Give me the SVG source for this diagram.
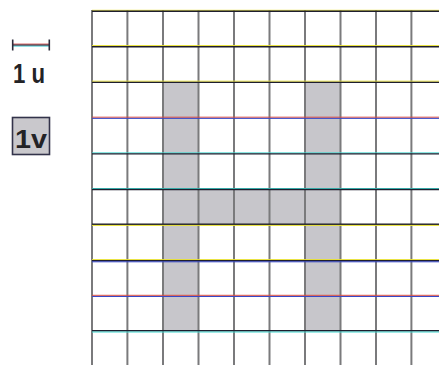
<svg xmlns="http://www.w3.org/2000/svg" width="439" height="365" viewBox="0 0 439 365">
<style>
.v{stroke:#7a7a7c;stroke-width:2}
.h{stroke:#1e1e2e;stroke-width:1.4}
.cell{fill:#c7c6cb}
.lbl{font-family:"Liberation Sans",Arial,sans-serif;font-weight:bold;fill:#232326}
.fy{stroke:#e8e030;stroke-width:1}
.fr{stroke:#d84a40;stroke-width:1}
.fb{stroke:#3848c8;stroke-width:1}
.fc{stroke:#40d8d0;stroke-width:1}
</style>
<rect width="439" height="365" fill="#ffffff"/>
<g id="cells">
<rect class="cell" x="163" y="82.1" width="35.5" height="248.9"/>
<rect class="cell" x="305" y="82.1" width="35.5" height="248.9"/>
<rect class="cell" x="198.5" y="188.75" width="106.5" height="35.55"/>
</g>
<g id="grid-vertical">
<line class="v" x1="92" y1="10" x2="92" y2="365"/>
<line class="v" x1="127.4" y1="10" x2="127.4" y2="365"/>
<line class="v" x1="163" y1="10" x2="163" y2="365"/>
<line class="v" x1="198.5" y1="10" x2="198.5" y2="365"/>
<line class="v" x1="234" y1="10" x2="234" y2="365"/>
<line class="v" x1="269.5" y1="10" x2="269.5" y2="365"/>
<line class="v" x1="305" y1="10" x2="305" y2="365"/>
<line class="v" x1="340.5" y1="10" x2="340.5" y2="365"/>
<line class="v" x1="376" y1="10" x2="376" y2="365"/>
<line class="v" x1="411.4" y1="10" x2="411.4" y2="365"/>
</g>
<g id="grid-horizontal">
<line class="fy" x1="92" y1="10.3" x2="439" y2="10.3"/>
<line class="h" x1="92" y1="11.3" x2="439" y2="11.3"/>
<line class="fy" x1="92" y1="45.6" x2="439" y2="45.6"/>
<line class="h" x1="92" y1="46.8" x2="439" y2="46.8"/>
<line class="fy" x1="92" y1="81.2" x2="439" y2="81.2"/>
<line class="h" x1="92" y1="82.4" x2="439" y2="82.4"/>
<line class="fr" x1="92" y1="117.2" x2="439" y2="117.2"/>
<line class="fb" x1="92" y1="118.4" x2="439" y2="118.4"/>
<line class="fc" x1="92" y1="152.9" x2="439" y2="152.9"/>
<line class="h" x1="92" y1="153.9" x2="439" y2="153.9"/>
<line class="fc" x1="92" y1="188.5" x2="439" y2="188.5"/>
<line class="h" x1="92" y1="189.5" x2="439" y2="189.5"/>
<line class="h" x1="92" y1="224.2" x2="439" y2="224.2"/>
<line class="fy" x1="92" y1="225.4" x2="439" y2="225.4"/>
<line class="fy" x1="92" y1="259.6" x2="439" y2="259.6"/>
<line class="h" x1="92" y1="260.7" x2="439" y2="260.7"/>
<line class="fb" x1="92" y1="261.8" x2="439" y2="261.8"/>
<line class="fr" x1="92" y1="295.3" x2="439" y2="295.3"/>
<line class="fb" x1="92" y1="296.5" x2="439" y2="296.5"/>
<line class="h" x1="92" y1="330.8" x2="439" y2="330.8"/>
<line class="fc" x1="92" y1="332" x2="439" y2="332"/>
</g>
<g id="scale-u">
<line x1="12.7" y1="45" x2="49.3" y2="45" stroke="#2a2a3a" stroke-width="1.6"/>
<line x1="12.7" y1="46.2" x2="49.3" y2="46.2" stroke="#40c8d0" stroke-width="0.8"/>
<line x1="12.7" y1="44" x2="49.3" y2="44" stroke="#d04848" stroke-width="0.8"/>
<line x1="12.7" y1="39.5" x2="12.7" y2="50.5" stroke="#2a2a3a" stroke-width="1.6"/>
<line x1="49.3" y1="39.5" x2="49.3" y2="50.5" stroke="#2a2a3a" stroke-width="1.6"/>
<text class="lbl" x="13" y="83.3" font-size="27" textLength="32" lengthAdjust="spacingAndGlyphs">1 u</text>
</g>
<g id="legend-v">
<rect x="12.5" y="117.5" width="37" height="37" fill="#c9c8cc" stroke="#33334a" stroke-width="1.6"/>
<text class="lbl" x="15" y="148.3" font-size="25" textLength="32" lengthAdjust="spacingAndGlyphs">1v</text>
</g>
</svg>
